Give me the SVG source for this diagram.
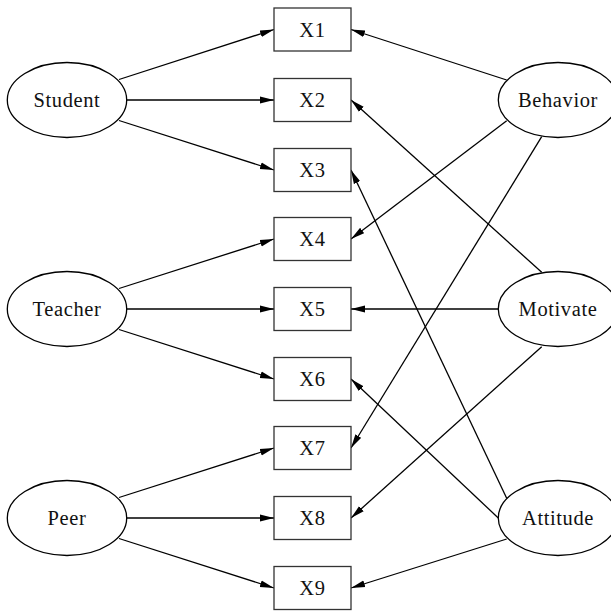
<svg xmlns="http://www.w3.org/2000/svg" width="611" height="611" viewBox="0 0 611 611">
<defs>
<marker id="ah" markerWidth="14" markerHeight="8" refX="14" refY="4" orient="auto" markerUnits="userSpaceOnUse">
<path d="M0,0.6 L14,4 L0,7.4 Z" fill="#000"/>
</marker>
<style>
.n{fill:#fff;stroke:#000;stroke-width:1.3}
.b{fill:#fff;stroke:#333;stroke-width:1.3}
text{font-family:"Liberation Serif","Times New Roman",serif;font-size:20.5px;fill:#111;text-anchor:middle;dominant-baseline:central;letter-spacing:0.6px}
.e line{stroke:#000;stroke-width:1.3;marker-end:url(#ah)}
</style>
</defs>
<rect width="611" height="611" fill="#fff"/>
<g class="e" id="connectors">
<line x1="119" y1="79.5" x2="274" y2="29.5"/>
<line x1="126.7" y1="100" x2="274" y2="100"/>
<line x1="119" y1="120.5" x2="274" y2="170"/>
<line x1="119" y1="288.5" x2="274" y2="239"/>
<line x1="126.7" y1="309" x2="274" y2="309"/>
<line x1="119" y1="329.5" x2="274" y2="379"/>
<line x1="119" y1="497.5" x2="274" y2="448"/>
<line x1="126.7" y1="518" x2="274" y2="518"/>
<line x1="119" y1="538.5" x2="274" y2="588"/>
<line x1="506.7" y1="80" x2="351" y2="29.5"/>
<line x1="506.7" y1="120.7" x2="351" y2="239"/>
<line x1="541.7" y1="136.7" x2="351" y2="448"/>
<line x1="541.7" y1="272.3" x2="351" y2="100"/>
<line x1="498.3" y1="309" x2="351" y2="309"/>
<line x1="541.7" y1="346.7" x2="351" y2="518"/>
<line x1="506.7" y1="498.3" x2="351" y2="170"/>
<line x1="498.3" y1="518" x2="351" y2="379"/>
<line x1="506.7" y1="539" x2="351" y2="588"/>
</g>
<g id="Student"><ellipse class="n" cx="67" cy="100" rx="59.7" ry="37.5"/><text x="67" y="100">Student</text></g>
<g id="Teacher"><ellipse class="n" cx="67" cy="309" rx="59.7" ry="37.5"/><text x="67" y="309">Teacher</text></g>
<g id="Peer"><ellipse class="n" cx="67" cy="518" rx="59.7" ry="37.5"/><text x="67" y="518">Peer</text></g>
<g id="Behavior"><ellipse class="n" cx="558" cy="100" rx="59.7" ry="37.5"/><text x="558" y="100">Behavior</text></g>
<g id="Motivate"><ellipse class="n" cx="558" cy="309" rx="59.7" ry="37.5"/><text x="558" y="309">Motivate</text></g>
<g id="Attitude"><ellipse class="n" cx="558" cy="518" rx="59.7" ry="37.5"/><text x="558" y="518">Attitude</text></g>
<g id="X1"><rect class="b" x="274" y="8" width="77" height="43"/><text x="312.5" y="29.5">X1</text></g>
<g id="X2"><rect class="b" x="274" y="78.5" width="77" height="43"/><text x="312.5" y="100">X2</text></g>
<g id="X3"><rect class="b" x="274" y="148.5" width="77" height="43"/><text x="312.5" y="170">X3</text></g>
<g id="X4"><rect class="b" x="274" y="217.5" width="77" height="43"/><text x="312.5" y="239">X4</text></g>
<g id="X5"><rect class="b" x="274" y="287.5" width="77" height="43"/><text x="312.5" y="309">X5</text></g>
<g id="X6"><rect class="b" x="274" y="357.5" width="77" height="43"/><text x="312.5" y="379">X6</text></g>
<g id="X7"><rect class="b" x="274" y="426.5" width="77" height="43"/><text x="312.5" y="448">X7</text></g>
<g id="X8"><rect class="b" x="274" y="496.5" width="77" height="43"/><text x="312.5" y="518">X8</text></g>
<g id="X9"><rect class="b" x="274" y="566.5" width="77" height="43"/><text x="312.5" y="588">X9</text></g>
</svg>
